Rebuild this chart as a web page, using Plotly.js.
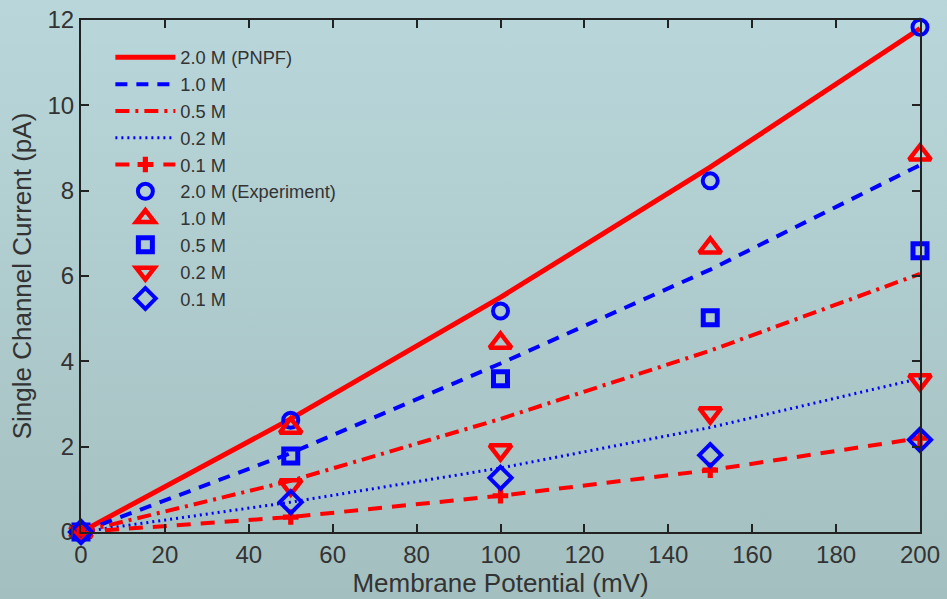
<!DOCTYPE html>
<html>
<head>
<meta charset="utf-8">
<script src="https://cdn.plot.ly/plotly-3.0.1.min.js"></script>
<style>
html, body { margin:0; padding:0; }
body { width:947px; height:599px; background: linear-gradient(#b9d7db, #a4bfbf); }
#chart { width:947px; height:599px; }
</style>
</head>
<body>
<div id="chart"></div>
<script>
// Membrane potential (mV)
const potential = [0, 50, 100, 150, 200];

// PNPF model curves (pA)
const pnpf20 = [0, 2.65, 5.5, 8.55, 11.8];
const pnpf10 = [0, 1.85, 3.95, 6.15, 8.6];
const pnpf05 = [0, 1.2, 2.65, 4.25, 6.05];
const pnpf02 = [0, 0.7, 1.5, 2.45, 3.6];
const pnpf01 = [0, 0.35, 0.85, 1.45, 2.2];

// Experiment (pA)
const exp20 = [0, 2.62, 5.18, 8.23, 11.83];
const exp10 = [0, 2.44, 4.43, 6.66, 8.84];
const exp05 = [0, 1.78, 3.59, 5.02, 6.59];
const exp02 = [0, 1.1, 1.92, 2.79, 3.56];
const exp01 = [0, 0.7, 1.27, 1.8, 2.16];

const RED = '#ff0000', BLUE = '#0000ff';

const traces = [
  {x: potential, y: pnpf20, name: '2.0 M (PNPF)', mode: 'lines', line: {color: RED, width: 5}},
  {x: potential, y: pnpf10, name: '1.0 M', mode: 'lines', line: {color: BLUE, width: 4, dash: '12px,9px'}},
  {x: potential, y: pnpf05, name: '0.5 M', mode: 'lines', line: {color: RED, width: 4, dash: '14px,6px,3px,6px'}},
  {x: potential, y: pnpf02, name: '0.2 M', mode: 'lines', line: {color: BLUE, width: 3, dash: '2px,4px'}},
  {x: potential, y: pnpf01, name: '0.1 M', mode: 'lines+markers', line: {color: RED, width: 4, dash: '14px,10px'},
    marker: {symbol: 'cross', size: 13, color: RED}, cliponaxis: false},
  {x: potential, y: exp20, name: '2.0 M (Experiment)', mode: 'markers', cliponaxis: false,
    marker: {symbol: 'circle-open', size: 15, color: BLUE, line: {color: BLUE, width: 4}}},
  {x: potential, y: exp10, name: '1.0 M', mode: 'markers', cliponaxis: false,
    marker: {symbol: 'triangle-up-open', size: 19, color: RED, line: {color: RED, width: 4.5}}},
  {x: potential, y: exp05, name: '0.5 M', mode: 'markers', cliponaxis: false,
    marker: {symbol: 'square-open', size: 14, color: BLUE, line: {color: BLUE, width: 5}}},
  {x: potential, y: exp02, name: '0.2 M', mode: 'markers', cliponaxis: false,
    marker: {symbol: 'triangle-down-open', size: 19, color: RED, line: {color: RED, width: 4.5}}},
  {x: potential, y: exp01, name: '0.1 M', mode: 'markers', cliponaxis: false,
    marker: {symbol: 'diamond-open', size: 17, color: BLUE, line: {color: BLUE, width: 4}}}
];

const FONT = 'Liberation Sans, Arial, sans-serif';
const axisCommon = {
  showgrid: false, zeroline: false, showline: true, linecolor: '#222', linewidth: 2,
  mirror: 'ticks', ticks: 'inside', ticklen: 8, tickwidth: 2, tickcolor: '#222',
  tickfont: {family: FONT, size: 24, color: '#333'}
};

const layout = {
  width: 947, height: 599,
  paper_bgcolor: 'rgba(0,0,0,0)', plot_bgcolor: 'rgba(0,0,0,0)',
  margin: {l: 81, r: 27, t: 20, b: 67},
  showlegend: true,
  legend: {x: 0.035, y: 0.963, xanchor: 'left', yanchor: 'top', bgcolor: 'rgba(0,0,0,0)',
    font: {family: FONT, size: 18.3, color: '#333'}, tracegroupgap: 0, itemwidth: 60},
  xaxis: Object.assign({}, axisCommon, {range: [0, 200], tickvals: [0,20,40,60,80,100,120,140,160,180,200],
    title: {text: 'Membrane Potential (mV)', font: {family: FONT, size: 26, color: '#333'}, standoff: 3}}),
  yaxis: Object.assign({}, axisCommon, {range: [0, 12], tickvals: [0,2,4,6,8,10,12],
    title: {text: 'Single Channel Current (pA)', font: {family: FONT, size: 26, color: '#333'}, standoff: 8}})
};

Plotly.newPlot('chart', traces, layout, {displayModeBar: false});
</script>
</body>
</html>
